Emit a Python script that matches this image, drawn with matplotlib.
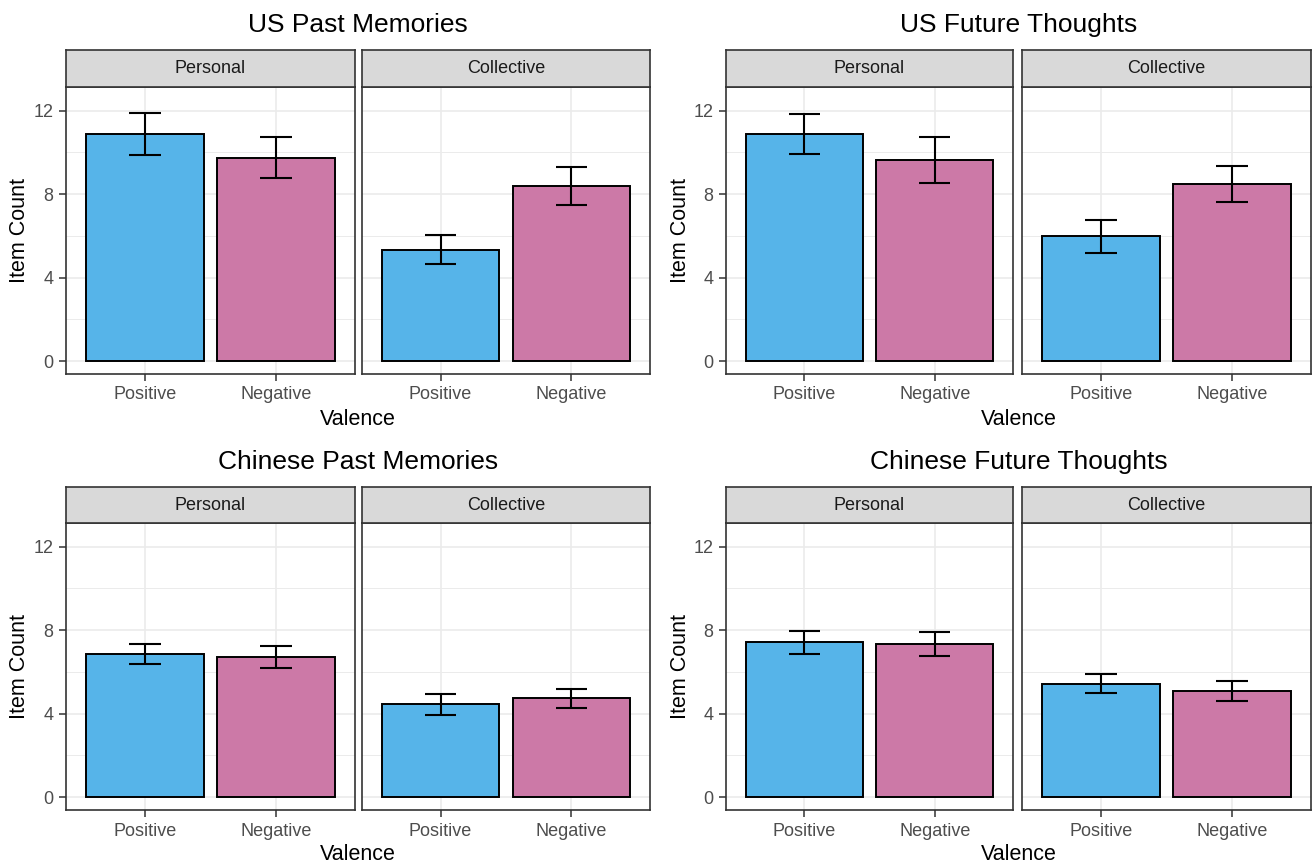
import matplotlib
matplotlib.use('Agg')
import matplotlib.pyplot as plt

plt.rcParams['font.family'] = ['Liberation Sans', 'DejaVu Sans']

titles = ['US Past Memories', 'US Future Thoughts', 'Chinese Past Memories', 'Chinese Future Thoughts']
facets = ['Personal', 'Collective']
valence = ['Positive', 'Negative']

# means per plot: [Personal Pos, Personal Neg, Collective Pos, Collective Neg]
us_past_mean = [10.89, 9.75, 5.34, 8.39]
us_past_se = [1.00, 1.00, 0.71, 0.89]
us_future_mean = [10.87, 9.65, 5.98, 8.47]
us_future_se = [0.96, 1.10, 0.78, 0.86]
cn_past_mean = [6.85, 6.70, 4.45, 4.73]
cn_past_se = [0.46, 0.53, 0.50, 0.46]
cn_future_mean = [7.41, 7.33, 5.43, 5.08]
cn_future_se = [0.56, 0.57, 0.45, 0.46]

means = [us_past_mean, us_future_mean, cn_past_mean, cn_future_mean]
ses = [us_past_se, us_future_se, cn_past_se, cn_future_se]

bar_colors = ['#56B4E9', '#CC79A7']
yticks = [0, 4, 8, 12]
minor_yticks = [2, 6, 10]

W, H = 1312, 868
fig = plt.figure(figsize=(W / 100, H / 100), dpi=100)


def box(x0, y0, x1, y1):
    # pixel box (top-left origin) -> figure fraction
    return [x0 / W, 1 - y1 / H, (x1 - x0) / W, (y1 - y0) / H]


col_x = [[(66, 355), (362, 650)], [(726, 1013), (1022, 1311)]]
row_y = [(50, 87, 374), (487, 523, 810)]

for k in range(4):
    r, c = divmod(k, 2)
    s_top, p_top, p_bot = row_y[r]
    for f in range(2):
        x0, x1 = col_x[c][f]
        ax = fig.add_axes(box(x0, p_top, x1, p_bot))
        vals = means[k][2 * f:2 * f + 2]
        err = ses[k][2 * f:2 * f + 2]
        ax.bar([1, 2], vals, width=0.9, color=bar_colors, edgecolor='black', linewidth=1.4, zorder=3)
        ax.errorbar([1, 2], vals, yerr=err, fmt='none', ecolor='black', elinewidth=1.5,
                    capsize=0, zorder=4)
        for xi, v, e in zip([1, 2], vals, err):
            ax.hlines([v - e, v + e], xi - 0.12, xi + 0.12, color='black', lw=1.5, zorder=4)
        ax.set_xlim(0.4, 2.6)
        ax.set_ylim(-0.62, 13.13)
        ax.set_yticks(yticks)
        ax.set_yticks(minor_yticks, minor=True)
        ax.set_xticks([1, 2])
        ax.set_xticklabels(valence, fontsize=13, color='#4D4D4D')
        ax.grid(True, which='major', color='#EBEBEB', lw=1.2, zorder=0)
        ax.grid(True, which='minor', axis='y', color='#EBEBEB', lw=0.7, zorder=0)
        ax.tick_params(axis='both', which='major', length=5, width=1.1, color='#333333', pad=4)
        ax.tick_params(axis='y', which='minor', length=0)
        if f == 0:
            ax.set_yticklabels([str(t) for t in yticks], fontsize=13, color='#4D4D4D')
        else:
            ax.tick_params(axis='y', which='major', length=0, labelleft=False)
        for sp in ax.spines.values():
            sp.set_color('#333333')
            sp.set_linewidth(1.2)
        ax.set_axisbelow(True)

        # facet strip
        sax = fig.add_axes(box(x0, s_top, x1, p_top))
        sax.set_xticks([])
        sax.set_yticks([])
        sax.set_facecolor('#D9D9D9')
        for sp in sax.spines.values():
            sp.set_color('#333333')
            sp.set_linewidth(1.2)
        sax.text(0.5, 0.5, facets[f], ha='center', va='center', fontsize=13,
                 color='#1A1A1A', transform=sax.transAxes)

    left = col_x[c][0][0]
    right = col_x[c][1][1]
    mid = (left + right) / 2
    fig.text(mid / W, 1 - (s_top - 25) / H, titles[k], ha='center', va='center', fontsize=19)
    fig.text(mid / W, 1 - (p_bot + 45) / H, 'Valence', ha='center', va='center', fontsize=15.5)
    fig.text((left - 46) / W, 1 - ((p_top + p_bot) / 2) / H, 'Item Count', ha='center',
             va='center', rotation=90, fontsize=15.5)

fig.savefig('out.png', dpi=100, facecolor='white')
